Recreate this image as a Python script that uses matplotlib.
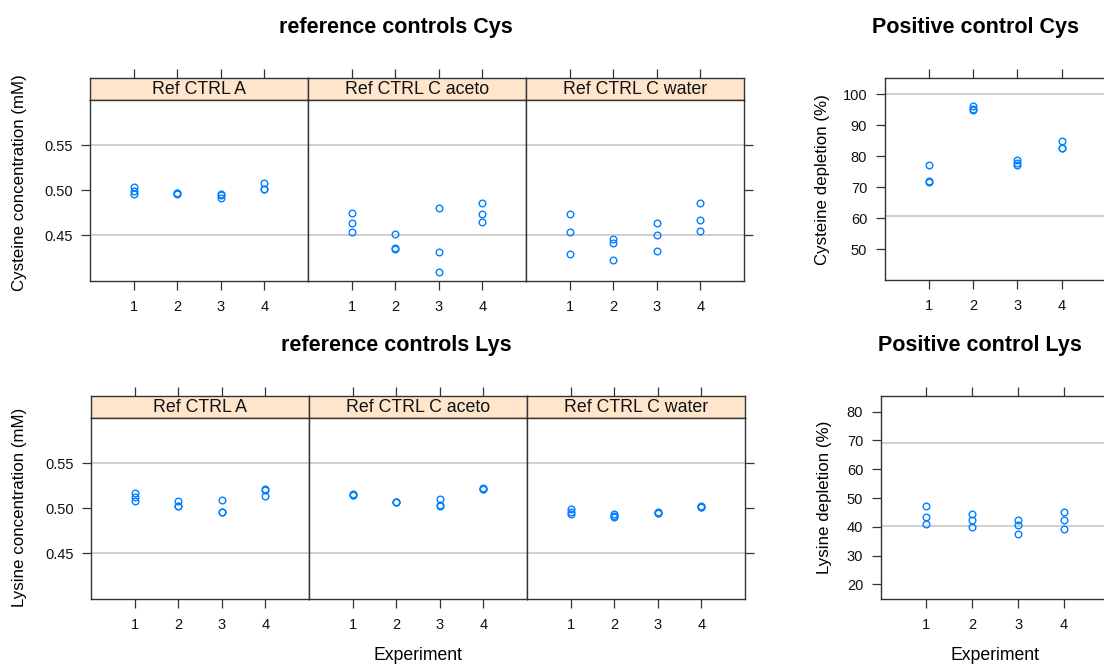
import matplotlib
matplotlib.use('Agg')
import matplotlib.pyplot as plt

plt.rcParams['font.family'] = ['Liberation Sans', 'DejaVu Sans']

# ---------------- data ----------------
experiments = [1, 2, 3, 4]
ref_panels = ["Ref CTRL A", "Ref CTRL C aceto", "Ref CTRL C water"]

cys_ref_A = [[0.503, 0.499, 0.496], [0.497, 0.496, 0.497], [0.496, 0.495, 0.491], [0.508, 0.501, 0.501]]
cys_ref_aceto = [[0.475, 0.464, 0.454], [0.451, 0.436, 0.435], [0.480, 0.431, 0.409], [0.486, 0.473, 0.465]]
cys_ref_water = [[0.473, 0.453, 0.429], [0.446, 0.441, 0.423], [0.463, 0.450, 0.432], [0.486, 0.467, 0.455]]

lys_ref_A = [[0.517, 0.513, 0.508], [0.508, 0.503, 0.503], [0.509, 0.496, 0.496], [0.521, 0.520, 0.514]]
lys_ref_aceto = [[0.516, 0.515, 0.515], [0.507, 0.507, 0.507], [0.510, 0.504, 0.503], [0.522, 0.521, 0.521]]
lys_ref_water = [[0.4996, 0.496, 0.494], [0.494, 0.4915, 0.4904], [0.496, 0.495, 0.4948], [0.502, 0.501, 0.5008]]

cys_pos = [[77.1, 72.1, 71.7], [96.0, 95.3, 94.8], [78.8, 77.7, 77.0], [84.8, 82.7, 82.5]]
lys_pos = [[47.3, 43.3, 41.0], [44.5, 42.2, 39.9], [42.2, 40.7, 37.4], [45.3, 42.2, 39.2]]

ref_lines = [0.45, 0.55]
cys_pos_lines = [60.8, 100.0]
lys_pos_lines = [40.2, 69.0]
ref_yticks = [0.45, 0.50, 0.55]
cys_pos_yticks = [50, 60, 70, 80, 90, 100]
lys_pos_yticks = [20, 30, 40, 50, 60, 70, 80]

# ---------------- styling ----------------
W, H = 1104, 666
fig = plt.figure(figsize=(W / 100, H / 100), dpi=100)

BOX = '#333333'
PT_COL = '#0080ff'
LINE_COL = '#cccccc'
STRIP_COL = '#ffe5cc'
TICK_FS = 10.5
LAB_FS = 12.2
STRIP_FS = 12.8
XLAB_FS = 12.7
TITLE_FS = 15.5
TL = 6.5


def px_axes(x0, y0, x1, y1):
    return fig.add_axes([x0 / W, 1 - y1 / H, (x1 - x0) / W, (y1 - y0) / H])


def style_box(ax):
    for s in ax.spines.values():
        s.set_color(BOX)
        s.set_linewidth(1.0)


def plot_points(ax, values):
    xs, ys = [], []
    for e, vals in zip(experiments, values):
        for v in vals:
            xs.append(e)
            ys.append(v)
    ax.plot(xs, ys, linestyle='none', marker='o', ms=4.8, mfc='none',
            mec=PT_COL, mew=1.0, zorder=3, clip_on=False)


def panel(box, values, ylim, lines, yticks, left, right, top):
    ax = px_axes(*box)
    style_box(ax)
    for l in lines:
        ax.axhline(l, color=LINE_COL, lw=1.3, zorder=1)
    plot_points(ax, values)
    ax.set_xlim(0, 5)
    ax.set_ylim(*ylim)
    ax.set_xticks(experiments)
    ax.set_xticklabels([str(e) for e in experiments])
    ax.set_yticks(yticks)
    ax.set_yticklabels(['%.2f' % t if isinstance(t, float) else str(t) for t in yticks])
    ax.tick_params(axis='both', direction='out', length=TL, width=0.9,
                   color=BOX, labelsize=TICK_FS, labelcolor='#111111')
    ax.tick_params(axis='x', pad=7, top=top, bottom=True, labeltop=False)
    ax.tick_params(axis='y', pad=6, left=left, labelleft=left, right=right, labelright=False)
    return ax


def strip(box, label):
    ax = px_axes(*box)
    style_box(ax)
    ax.set_facecolor(STRIP_COL)
    ax.set_xlim(0, 5)
    ax.set_xticks(experiments)
    ax.set_yticks([])
    ax.tick_params(axis='x', direction='out', length=TL, width=0.9, color=BOX,
                   top=True, bottom=False, labeltop=False, labelbottom=False)
    ax.text(0.5, 0.45, label, transform=ax.transAxes, ha='center', va='center',
            fontsize=STRIP_FS, color='#111111')
    return ax


# ---------------- top row: Cys ----------------
top_x = [90, 308, 526, 744]
top_strip = (77.5, 99.5)
top_data = (99.5, 281)
cys_sets = [cys_ref_A, cys_ref_aceto, cys_ref_water]
for i in range(3):
    strip((top_x[i], top_strip[0], top_x[i + 1], top_strip[1]), ref_panels[i])
    panel((top_x[i], top_data[0], top_x[i + 1], top_data[1]), cys_sets[i], (0.3992, 0.6005),
          ref_lines, ref_yticks, left=(i == 0), right=(i == 2), top=False)

fig.text(396 / W, 1 - 27 / H, 'reference controls Cys', ha='center', va='center',
         fontsize=TITLE_FS, fontweight='bold')
fig.text(20 / W, 1 - 183 / H, 'Cysteine concentration (mM)', ha='center', va='center',
         rotation=90, fontsize=LAB_FS)

# Cys positive control
panel((884.5, 78.3, 1106, 280), cys_pos, (40, 105.1), cys_pos_lines, cys_pos_yticks,
      left=True, right=True, top=True)
fig.text(975 / W, 1 - 27 / H, 'Positive control Cys', ha='center', va='center',
         fontsize=TITLE_FS, fontweight='bold')
fig.text(823 / W, 1 - 180 / H, 'Cysteine depletion (%)', ha='center', va='center',
         rotation=90, fontsize=LAB_FS)

# ---------------- bottom row: Lys ----------------
bot_x = [91.5, 309, 527, 745]
bot_strip = (395.7, 417.7)
bot_data = (417.7, 599)
lys_sets = [lys_ref_A, lys_ref_aceto, lys_ref_water]
for i in range(3):
    strip((bot_x[i], bot_strip[0], bot_x[i + 1], bot_strip[1]), ref_panels[i])
    panel((bot_x[i], bot_data[0], bot_x[i + 1], bot_data[1]), lys_sets[i], (0.399, 0.6007),
          ref_lines, ref_yticks, left=(i == 0), right=(i == 2), top=False)

fig.text(396 / W, 1 - 346 / H, 'reference controls Lys', ha='center', va='center',
         fontsize=TITLE_FS, fontweight='bold')
fig.text(20 / W, 1 - 507 / H, 'Lysine concentration (mM)', ha='center', va='center',
         rotation=90, fontsize=LAB_FS)
fig.text(418 / W, 1 - 655 / H, 'Experiment', ha='center', va='center', fontsize=XLAB_FS)

# Lys positive control
panel((880.5, 396, 1110, 599), lys_pos, (14.9, 85.45), lys_pos_lines, lys_pos_yticks,
      left=True, right=True, top=True)
fig.text(980 / W, 1 - 346 / H, 'Positive control Lys', ha='center', va='center',
         fontsize=TITLE_FS, fontweight='bold')
fig.text(825 / W, 1 - 497 / H, 'Lysine depletion (%)', ha='center', va='center',
         rotation=90, fontsize=LAB_FS)
fig.text(995 / W, 1 - 655 / H, 'Experiment', ha='center', va='center', fontsize=XLAB_FS)

fig.savefig('out.png', dpi=100)
